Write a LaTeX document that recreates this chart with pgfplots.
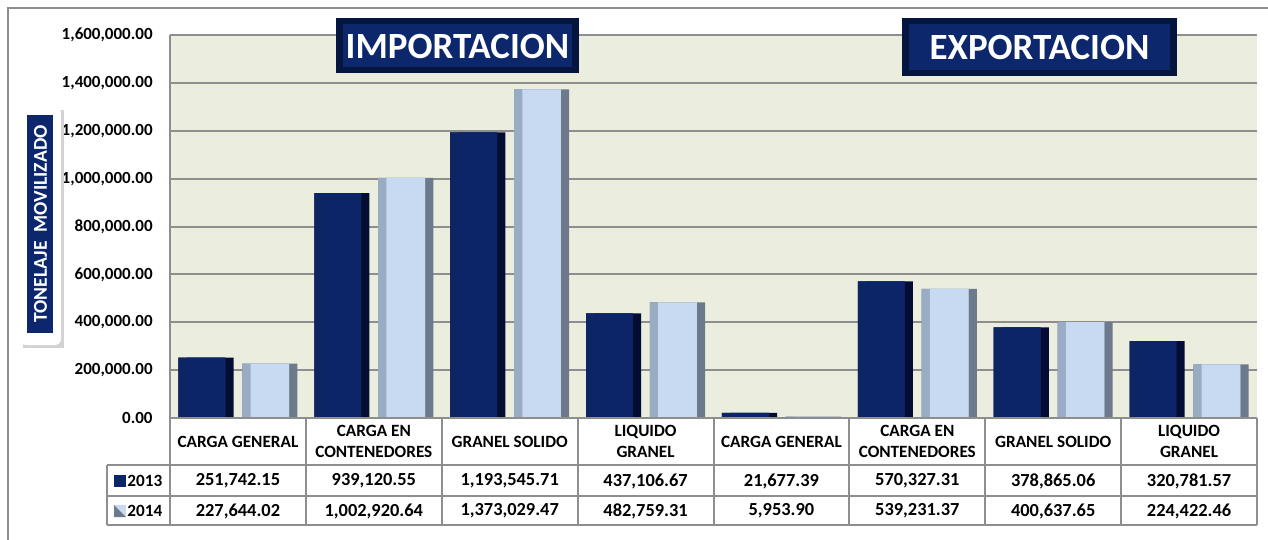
\documentclass[border=0pt]{standalone}
\usepackage{fontspec}
\setmainfont{Carlito}
\usepackage{pgfplots}
\usepackage{pgfplotstable}
\pgfplotsset{compat=1.18}
\definecolor{bg}{HTML}{EBEEDE}
\definecolor{gridc}{HTML}{8E8E8E}
\definecolor{navyL}{HTML}{0E2563}
\definecolor{navyM}{HTML}{0C2468}
\definecolor{navyD}{HTML}{030D33}
\definecolor{skyL}{HTML}{98ACC4}
\definecolor{skyM}{HTML}{C8DAF1}
\definecolor{skyD}{HTML}{6C7A8C}
\definecolor{boxD}{HTML}{041540}
\definecolor{boxM}{HTML}{0C276B}

% x, 2013, 2014
\pgfplotstableread{
x a b
0 251742.15 227644.02
1 939120.55 1002920.64
2 1193545.71 1373029.47
3 437106.67 482759.31
4 21677.39 5953.90
5 570327.31 539231.37
6 378865.06 400637.65
7 320781.57 224422.46
}\datatab

\begin{document}
\begin{tikzpicture}
\path[use as bounding box] (0pt,0pt) rectangle (634pt,-270pt);

\begin{axis}[
  at={(85pt,-209pt)}, anchor=south west,
  scale only axis, width=543.5pt, height=191.5pt,
  xmin=-0.5, xmax=7.5, ymin=0, ymax=1600000,
  axis background/.style={fill=bg},
  axis line style={draw=none},
  ymajorgrids, grid style={gridc, line width=1pt},
  major tick length=0,
  ytick={0,200000,400000,600000,800000,1000000,1200000,1400000,1600000},
  scaled y ticks=false,
  yticklabel style={/pgf/number format/.cd, fixed, fixed zerofill, precision=2,
    1000 sep={,}, assume math mode=true, /tikz/.cd,
    font=\bfseries\fontsize{8.5}{10}\selectfont, anchor=east, inner sep=0pt, xshift=-8.5pt},
  xtick={0,1,2,3,4,5,6,7},
  xticklabels={CARGA GENERAL, {CARGA EN\\CONTENEDORES}, GRANEL SOLIDO, {LIQUIDO\\GRANEL},
    CARGA GENERAL, {CARGA EN\\CONTENEDORES}, GRANEL SOLIDO, {LIQUIDO\\GRANEL}},
  xticklabel style={font=\bfseries\fontsize{8.6}{10.5}\selectfont, align=center,
    anchor=center, yshift=-11.75pt},
  every axis plot/.append style={ybar, draw=none},
]
% 2013: dark edge, left bevel, face
\addplot[bar width=0.405, bar shift=-0.235, fill=navyD] table[x=x, y=a] {\datatab};
\addplot[bar width=0.345, bar shift=-0.265, fill=navyL] table[x=x, y=a] {\datatab};
\addplot[bar width=0.285, bar shift=-0.235, fill=navyM] table[x=x, y=a] {\datatab};
% 2014
\addplot[bar width=0.405, bar shift=0.235, fill=skyD] table[x=x, y=b] {\datatab};
\addplot[bar width=0.345, bar shift=0.205, fill=skyL] table[x=x, y=b] {\datatab};
\addplot[bar width=0.285, bar shift=0.235, fill=skyM] table[x=x, y=b] {\datatab};
\end{axis}

\begin{scope}[x=0.5pt, y=-0.5pt]
  % outer frame (top and left visible)
  \draw[gridc, line width=1pt] (8,540) -- (8,8) -- (1268,8);
  % plot borders and table grid
  \draw[gridc, line width=1pt] (170,35) -- (170,525);
  \draw[gridc, line width=1pt] (170,418) -- (1257,418);
  \foreach \yy in {465,496,525} \draw[gridc, line width=1pt] (107,\yy) -- (1257,\yy);
  \draw[gridc, line width=1pt] (107,465) -- (107,525);
  \foreach \k in {1,...,8} \draw[gridc, line width=1pt] ({170+135.875*\k},418) -- ({170+135.875*\k},525);
  % legend keys
  \fill[navyM] (114,475) rectangle (126,487);
  \fill[skyM] (114,505) rectangle (126,517);
  \fill[skyD] (114,505) -- (114,517) -- (126,517) -- cycle;
  \node[font=\bfseries\fontsize{8.6}{10}\selectfont, anchor=west, inner sep=0pt] at (127,481) {2013};
  \node[font=\bfseries\fontsize{8.6}{10}\selectfont, anchor=west, inner sep=0pt] at (127,511) {2014};
  % values
  \foreach \v [count=\i from 0] in {{251,742.15},{939,120.55},{1,193,545.71},{437,106.67},
      {21,677.39},{570,327.31},{378,865.06},{320,781.57}}
    \node[font=\bfseries\fontsize{9.2}{10}\selectfont] at ({170+135.875*\i+67.94},481) {\v};
  \foreach \v [count=\i from 0] in {{227,644.02},{1,002,920.64},{1,373,029.47},{482,759.31},
      {5,953.90},{539,231.37},{400,637.65},{224,422.46}}
    \node[font=\bfseries\fontsize{9.2}{10}\selectfont] at ({170+135.875*\i+67.94},511) {\v};
  % y label box
  \fill[gray!35] (23,110) rectangle (64,348);
  \fill[white, rounded corners=3pt] (20,107) rectangle (61,345);
  \fill[boxM] (27,115) rectangle (53,333);
  \node[rotate=90, white, font=\bfseries\fontsize{9.8}{11}\selectfont] at (40.5,224) {TONELAJE\ \ MOVILIZADO};
  % titles
  \fill[boxD] (336,18) rectangle (579,73);
  \fill[boxM] (343,24) rectangle (572,67);
  \node[white, font=\bfseries\fontsize{18.5}{20}\selectfont] at (457.5,46) {IMPORTACION};
  \fill[boxD] (902,18) rectangle (1177,76);
  \fill[boxM] (909,24) rectangle (1170,70);
  \node[white, font=\bfseries\fontsize{18.5}{20}\selectfont] at (1039.5,47) {EXPORTACION};
\end{scope}
\end{tikzpicture}
\end{document}
